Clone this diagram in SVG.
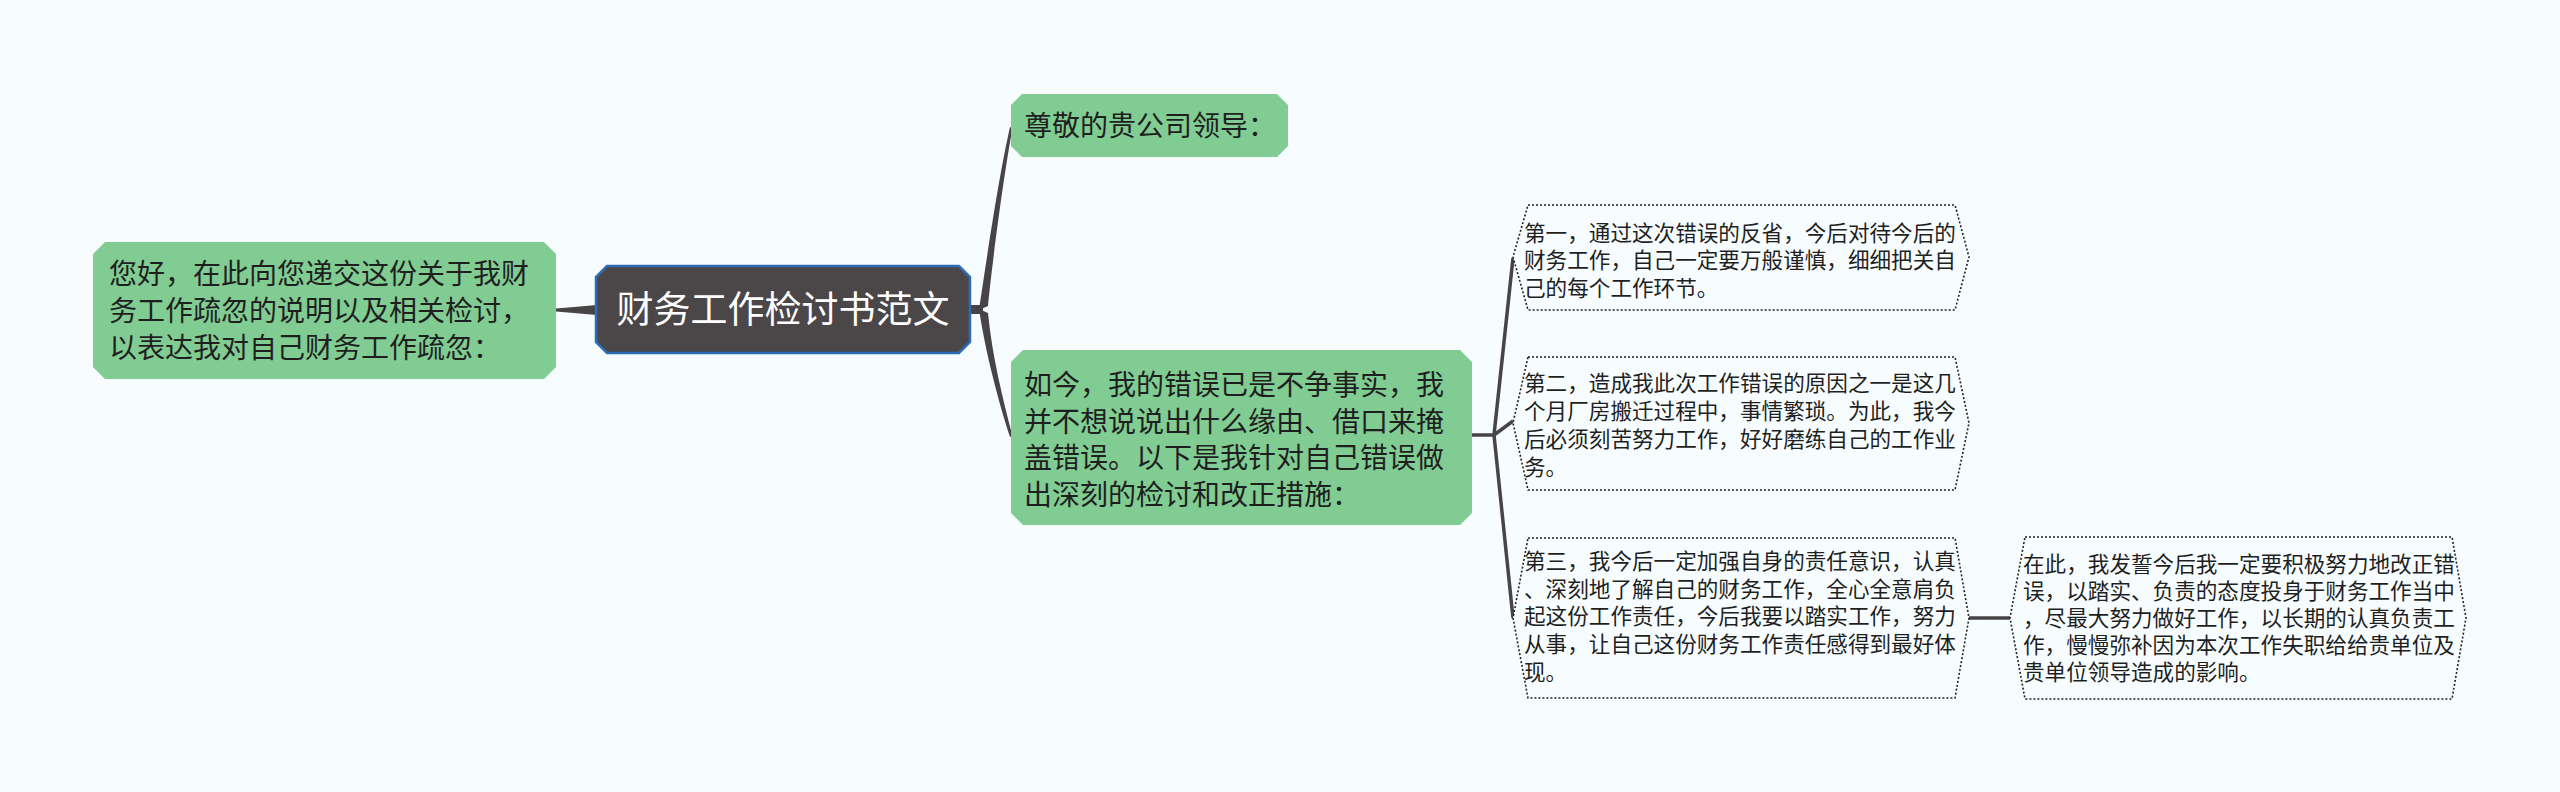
<svg xmlns="http://www.w3.org/2000/svg" width="2560" height="792" viewBox="0 0 2560 792">
<style>
.bg{fill:#f7fdfe}
.green{fill:#80cc92}
.center{fill:#4b4647;stroke:#2f6bb8;stroke-width:2.5}
.hex{fill:#f7fdfe;stroke:#222;stroke-width:1.6;stroke-dasharray:2 2}
.t{font-family:"Noto Sans CJK SC","Noto Sans",sans-serif;fill:#1f1f1f}
.tg{font-size:28px}
.ts{font-size:21.6px}
.tc{font-size:37px;fill:#ffffff;text-anchor:middle}
.conn{fill:#484445;stroke:none}
.line{stroke:#484445;stroke-width:3.5;fill:none}
</style>
<rect class="bg" x="0" y="0" width="2560" height="792"/>
<g id="connectors">
<path class="conn" d="M556,308.5 L597,305 L597,315 L556,311.5 Z"/>
<rect class="conn" x="969" y="305" width="14" height="9"/>
<path class="conn" d="M979,310 C985,270 998,180 1010,127 L1012.5,128 C1003,180 992,265 988,306 Z"/>
<path class="conn" d="M979,309 C985,350 998,400 1010,437 L1012.5,436 C1003,400 992,355 988,313 Z"/>
<line class="line" x1="1472" y1="435" x2="1494" y2="435"/>
<line class="line" x1="1494" y1="435" x2="1513" y2="258"/>
<line class="line" x1="1494" y1="435" x2="1513" y2="421"/>
<line class="line" x1="1494" y1="435" x2="1513" y2="618"/>
<line class="line" x1="1969" y1="618" x2="2010" y2="618"/>
</g>
<g id="node-left">
<path class="green" d="M105,242 L544,242 L556,254 L556,367 L544,379 L105,379 L93,367 L93,254 Z"/>
<text class="t tg" x="109" y="284">您好，在此向您递交这份关于我财</text>
<text class="t tg" x="109" y="321">务工作疏忽的说明以及相关检讨，</text>
<text class="t tg" x="109" y="358">以表达我对自己财务工作疏忽：</text>
</g>
<g id="node-center">
<path class="center" d="M607,266 L959,266 L970,277 L970,342 L959,353 L607,353 L596,342 L596,277 Z"/>
<text class="t tc" x="783" y="323">财务工作检讨书范文</text>
</g>
<g id="node-top">
<path class="green" d="M1022,94 L1277,94 L1288,105 L1288,146 L1277,157 L1022,157 L1011,146 L1011,105 Z"/>
<text class="t tg" x="1024" y="136">尊敬的贵公司领导：</text>
</g>
<g id="node-middle">
<path class="green" d="M1023,350 L1460,350 L1472,362 L1472,513 L1460,525 L1023,525 L1011,513 L1011,362 Z"/>
<text class="t tg" x="1024" y="395">如今，我的错误已是不争事实，我</text>
<text class="t tg" x="1024" y="432">并不想说说出什么缘由、借口来掩</text>
<text class="t tg" x="1024" y="468">盖错误。以下是我针对自己错误做</text>
<text class="t tg" x="1024" y="505">出深刻的检讨和改正措施：</text>
</g>
<g id="node-r1">
<path class="hex" d="M1528,205 L1955,205 L1969,257 L1955,310 L1528,310 L1513,257 Z"/>
<text class="t ts" x="1524" y="241">第一，通过这次错误的反省，今后对待今后的</text>
<text class="t ts" x="1524" y="268">财务工作，自己一定要万般谨慎，细细把关自</text>
<text class="t ts" x="1524" y="296">己的每个工作环节。</text>
</g>
<g id="node-r2">
<path class="hex" d="M1528,357 L1955,357 L1969,423 L1955,490 L1528,490 L1513,423 Z"/>
<text class="t ts" x="1524" y="391">第二，造成我此次工作错误的原因之一是这几</text>
<text class="t ts" x="1524" y="419">个月厂房搬迁过程中，事情繁琐。为此，我今</text>
<text class="t ts" x="1524" y="447">后必须刻苦努力工作，好好磨练自己的工作业</text>
<text class="t ts" x="1524" y="475">务。</text>
</g>
<g id="node-r3">
<path class="hex" d="M1528,538 L1955,538 L1969,618 L1955,698 L1528,698 L1513,618 Z"/>
<text class="t ts" x="1524" y="569">第三，我今后一定加强自身的责任意识，认真</text>
<text class="t ts" x="1524" y="597">、深刻地了解自己的财务工作，全心全意肩负</text>
<text class="t ts" x="1524" y="624">起这份工作责任，今后我要以踏实工作，努力</text>
<text class="t ts" x="1524" y="652">从事，让自己这份财务工作责任感得到最好体</text>
<text class="t ts" x="1524" y="680">现。</text>
</g>
<g id="node-r4">
<path class="hex" d="M2025,537 L2452,537 L2466,618 L2452,699 L2025,699 L2010,618 Z"/>
<text class="t ts" x="2023" y="572">在此，我发誓今后我一定要积极努力地改正错</text>
<text class="t ts" x="2023" y="599">误，以踏实、负责的态度投身于财务工作当中</text>
<text class="t ts" x="2023" y="626">，尽最大努力做好工作，以长期的认真负责工</text>
<text class="t ts" x="2023" y="653">作，慢慢弥补因为本次工作失职给给贵单位及</text>
<text class="t ts" x="2023" y="680">贵单位领导造成的影响。</text>
</g>
</svg>
